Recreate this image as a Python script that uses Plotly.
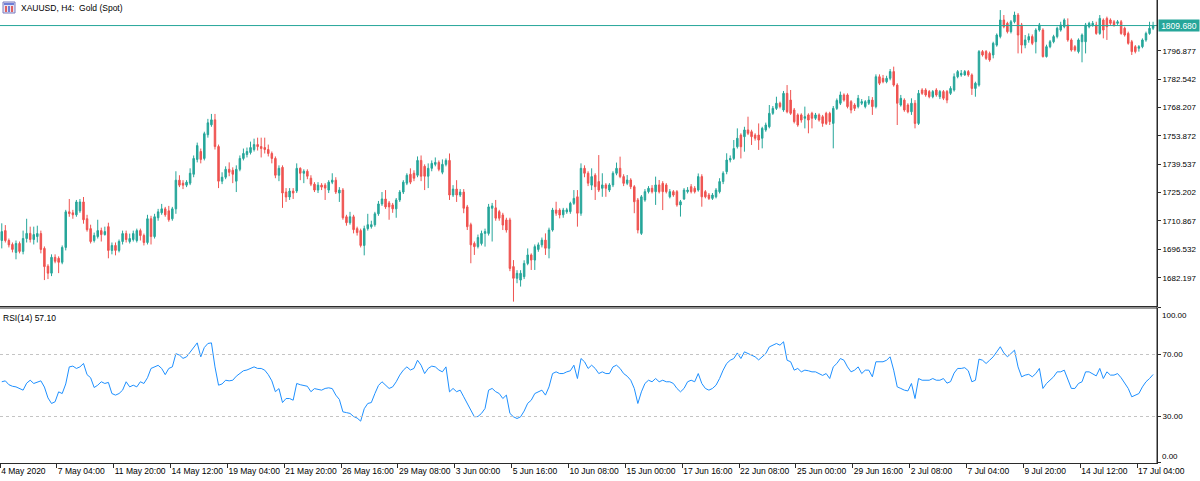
import plotly.graph_objects as go

# XAUUSD H4 bars, 4 May 2020 12:00 .. 17 Jul 2020 20:00
opens = [1701, 1706, 1701, 1699, 1695, 1699.5, 1695.5, 1702, 1704.6, 1701.5, 1703, 1704.5, 1697, 1688, 1684.5, 1692.5, 1692, 1690, 1697.5, 1715.5,
         1715, 1714, 1716, 1720.5, 1712, 1707, 1701, 1703, 1706, 1704, 1708, 1696, 1698.5, 1696, 1700.5, 1704.5, 1700.5, 1701.5, 1701, 1706,
         1703.5, 1700, 1712, 1703, 1712.5, 1715, 1717, 1716, 1712, 1717, 1731.5, 1730, 1729, 1730, 1734.5, 1742, 1746, 1742.5, 1754.5, 1759.5,
         1762, 1748.5, 1731, 1733, 1737, 1736.5, 1731, 1737, 1742.5, 1744.5, 1745.5, 1747, 1749.5, 1748.5, 1748, 1747, 1745, 1742.5, 1734, 1738,
         1725.5, 1723, 1726, 1726, 1737.5, 1735, 1736, 1732.5, 1729.5, 1726.5, 1729, 1729, 1726.5, 1730.5, 1731.5, 1725, 1726.5, 1713, 1710, 1713,
         1707, 1706, 1698.5, 1707, 1708, 1709, 1714.5, 1719.5, 1722, 1720, 1719, 1717, 1721.5, 1725.5, 1730, 1734.5, 1735, 1734, 1741.5, 1738.5,
         1733.5, 1737.5, 1739.5, 1740.5, 1735.5, 1739.5, 1741.5, 1724, 1727, 1724, 1725.5, 1718, 1709, 1699.5, 1698, 1699.5, 1704.6, 1704.6, 1717.3, 1717.5,
         1715.6, 1713.9, 1711.4, 1711.4, 1687.8, 1681.9, 1681, 1682.7, 1689.4, 1693.7, 1691.1, 1696.5, 1698.8, 1701.2, 1697.1, 1706.3, 1716.4, 1716.4, 1714, 1715.5,
         1715.6, 1719.8, 1723.1, 1714.8, 1737.5, 1735, 1729, 1734, 1730.8, 1727.4, 1729.1, 1726.5, 1729.1, 1735, 1737.5, 1733.3, 1729.9, 1731.6, 1728.2, 1721.5,
         1704.6, 1721.5, 1725.7, 1727.4, 1725.7, 1729.1, 1729.9, 1729.1, 1723.1, 1725.7, 1725.7, 1719, 1722, 1725.7, 1728.2, 1727.4, 1726.5, 1733.3, 1725.7, 1724,
         1722.3, 1723.1, 1725.7, 1730.8, 1735.8, 1741.7, 1742.5, 1748.4, 1754.3, 1753.5, 1756.9, 1756, 1754.3, 1754.3, 1752.7, 1756.9, 1758.5, 1765.3, 1767.8, 1770.4,
         1767, 1775.4, 1772, 1767, 1764.5, 1764.5, 1762.8, 1764.5, 1765.3, 1762.8, 1764.5, 1763.6, 1765.3, 1765.3, 1760.2, 1767.8, 1770.4, 1774.6, 1774.6, 1771.2,
         1769.5, 1768.7, 1770.4, 1768.7, 1770.4, 1772, 1768.7, 1783.8, 1783, 1781.3, 1783, 1786.4, 1779.6, 1769.5, 1772, 1769.5, 1766.1, 1770.4, 1760.2, 1777.1,
         1777.1, 1776.3, 1773.7, 1777.1, 1773.7, 1776.3, 1776.3, 1775.4, 1777.1, 1783.8, 1784.7, 1784.7, 1786.4, 1784.7, 1777.9, 1779.6, 1796.5, 1796.5, 1795.6, 1794.8,
         1799.8, 1804.1, 1812.5, 1810.8, 1806.6, 1811.6, 1815, 1810, 1799.8, 1802.4, 1804.1, 1801.5, 1807.4, 1807.4, 1794, 1799, 1801.5, 1804.1, 1807.4, 1809.1,
         1810, 1802.4, 1799, 1796.5, 1801.5, 1801.5, 1809.1, 1810, 1810, 1805.7, 1812.5, 1813.3, 1812.5, 1811.6, 1810.8, 1811.6, 1808.3, 1805.7, 1801.5, 1799,
         1798.2, 1799, 1802.4, 1805.7, 1808.3]
highs = [1709.7, 1708.8, 1702, 1700, 1701, 1700.5, 1706, 1712, 1708, 1708, 1708.5, 1706, 1698, 1689, 1694, 1694, 1693, 1698.5, 1716.5, 1722,
         1716.5, 1721.5, 1722, 1723, 1714, 1709, 1705, 1711.5, 1707.5, 1708, 1710, 1700, 1700, 1701.5, 1706, 1706, 1704.5, 1706, 1707, 1707,
         1704.5, 1714, 1713.5, 1714.5, 1717, 1719.5, 1718, 1718.5, 1718, 1736, 1734, 1731.5, 1731.5, 1737.5, 1744, 1750.5, 1747.5, 1756, 1762.5, 1765,
         1765, 1749.5, 1735.5, 1738.5, 1740.5, 1738, 1739, 1744, 1747.5, 1748, 1751, 1752.5, 1753, 1753, 1753, 1749.5, 1746, 1743.5, 1739, 1739,
         1727.5, 1727.5, 1727.5, 1740, 1738, 1737, 1737, 1734, 1730.5, 1730.5, 1730, 1730, 1731.5, 1735, 1733, 1728, 1727.5, 1714, 1715.5, 1714,
         1708, 1707, 1708.5, 1714.5, 1711, 1715.5, 1721, 1725.5, 1726.5, 1721, 1720, 1722.5, 1726.5, 1731.5, 1735, 1737.5, 1736.5, 1743.5, 1744, 1739.5,
         1740, 1741.5, 1743, 1741.5, 1742, 1742.5, 1745, 1729, 1731.5, 1727, 1727, 1719, 1710, 1700.5, 1704, 1706, 1707, 1719.5, 1720, 1721.5,
         1716.5, 1715, 1712.5, 1712.5, 1691.1, 1686, 1686, 1691, 1697, 1694.5, 1699, 1700, 1702.5, 1704.6, 1707.5, 1717.5, 1720.6, 1717.3, 1717.5, 1717.5,
         1720.6, 1726.5, 1726.5, 1740, 1739, 1736, 1737.5, 1735, 1744.2, 1735, 1730, 1730, 1736, 1740.4, 1743.4, 1734.5, 1734.1, 1732.5, 1729, 1722.5,
         1724, 1727, 1728.5, 1729, 1733.3, 1731.6, 1731, 1730, 1727, 1726.5, 1726.5, 1721.5, 1727.5, 1728, 1729.5, 1728.5, 1734.9, 1734.5, 1726.5, 1725,
         1725, 1727.5, 1732.5, 1736, 1745.1, 1744, 1751.8, 1757.7, 1755.2, 1758.5, 1763.6, 1757, 1755.2, 1760.2, 1758.5, 1760.6, 1769.5, 1769, 1773.7, 1771.2,
         1776.6, 1779.6, 1777.1, 1768, 1765.3, 1765.3, 1768.7, 1765.3, 1766.1, 1765.5, 1765.3, 1764.5, 1766.1, 1766.1, 1769, 1772.8, 1776.3, 1775.4, 1775.4, 1772,
         1770.4, 1774.6, 1772.5, 1772, 1774, 1773.5, 1785, 1785, 1784.7, 1784.3, 1787.7, 1788.9, 1780.5, 1774.6, 1772.9, 1770.4, 1772.9, 1772, 1777.1, 1778,
         1778, 1777.1, 1777.1, 1778, 1777.1, 1777.1, 1777.1, 1779, 1785.5, 1787.2, 1787.2, 1787.2, 1787.2, 1785.5, 1781.3, 1797.3, 1797.3, 1797.3, 1796.5, 1801.5,
         1805.7, 1817.5, 1815, 1811.6, 1812.5, 1816.7, 1816, 1811, 1804.9, 1805.7, 1805.2, 1808.3, 1811, 1808.3, 1800, 1802.4, 1805, 1809.1, 1811.6, 1813.3,
         1813.3, 1803.2, 1799.8, 1803.2, 1805.7, 1811, 1811.6, 1812, 1811.6, 1815, 1813.3, 1814.2, 1813.3, 1812.5, 1812.5, 1812.5, 1809.1, 1806.6, 1802.4, 1799.8,
         1799.8, 1803.2, 1806.6, 1811.6, 1811.6]
lows = [1697, 1700, 1697.5, 1695, 1691.5, 1694.5, 1694, 1700, 1700, 1699, 1700, 1694.5, 1681, 1681.5, 1683, 1689.5, 1684.5, 1689, 1696, 1713,
        1712, 1713, 1715, 1709.5, 1705.5, 1699.5, 1700, 1702, 1700.5, 1703.5, 1692, 1694, 1693.5, 1695, 1699, 1700, 1699.5, 1700.5, 1700, 1701,
        1698.5, 1699, 1699, 1702, 1711, 1714, 1713, 1710.5, 1711, 1714.5, 1728, 1727, 1728, 1729, 1733, 1740.5, 1740, 1741.5, 1753, 1758.5,
        1747, 1727.5, 1729.5, 1732, 1733.5, 1730, 1725.5, 1736, 1741.5, 1743, 1744.5, 1746, 1746.5, 1743, 1745, 1743.5, 1740, 1732.5, 1731, 1717.5,
        1720.5, 1721.5, 1722, 1725, 1731.5, 1730, 1732, 1728.5, 1725.5, 1725, 1726.5, 1721.5, 1725, 1729.5, 1724.5, 1720.5, 1711.5, 1708.5, 1709, 1704.6,
        1703.5, 1697.5, 1693.5, 1706, 1707, 1708, 1713.5, 1718.5, 1717, 1711.5, 1715, 1712.5, 1720.5, 1724.5, 1729, 1729.5, 1731, 1733, 1731, 1726.5,
        1727.5, 1736, 1738.5, 1736, 1734.5, 1738.5, 1721.5, 1723, 1720.5, 1723, 1714.8, 1706.3, 1689.5, 1693.7, 1697, 1698.5, 1697.9, 1703.5, 1700.5, 1711,
        1711, 1706.3, 1705, 1685.5, 1670.1, 1679.4, 1677.7, 1681.5, 1688.5, 1686.1, 1686.1, 1695.3, 1697.5, 1693.7, 1692, 1705.5, 1713.5, 1712.2, 1712.5, 1714.5,
        1714.5, 1719, 1708, 1713.5, 1733, 1728.5, 1726.5, 1721.5, 1725.5, 1723.1, 1723.1, 1725.5, 1728, 1734, 1732.5, 1728.5, 1729, 1727, 1714.8, 1704.6,
        1703.8, 1720.6, 1724.8, 1724.8, 1719, 1724.8, 1716.4, 1724.8, 1722.3, 1723.1, 1718.1, 1713.1, 1721.5, 1724.8, 1724.8, 1724.8, 1725.7, 1718.1, 1722.3, 1721.5,
        1721.5, 1722.3, 1724.8, 1729.5, 1734.5, 1740.5, 1741.7, 1747.5, 1742.5, 1745.9, 1754.3, 1749.3, 1751.5, 1746.8, 1747.6, 1756, 1757.7, 1764.5, 1767, 1767.8,
        1766.1, 1765.3, 1764.5, 1760.2, 1758.5, 1760.6, 1757.7, 1755.2, 1757.7, 1762, 1761.1, 1758.5, 1759.4, 1759.4, 1747.6, 1767, 1769.5, 1771.2, 1767.8, 1765.3,
        1766.5, 1767.8, 1769.5, 1767.8, 1769.5, 1764.5, 1767.8, 1779.6, 1780.5, 1780.5, 1782, 1778.8, 1759.4, 1768.7, 1766.1, 1765.3, 1764.5, 1757.7, 1759.4, 1774.6,
        1773.7, 1772.9, 1772.9, 1773.7, 1772.5, 1772, 1770.4, 1774.6, 1776.3, 1783, 1783.8, 1784.3, 1783.8, 1774.6, 1773.7, 1778.8, 1794, 1792.3, 1791.4, 1793.1,
        1799, 1803.2, 1808.3, 1805.7, 1805.7, 1810.8, 1795.6, 1795.6, 1798.2, 1801, 1799.8, 1795.6, 1806.6, 1793.5, 1793.5, 1798.2, 1800.7, 1803.2, 1806.6, 1808.3,
        1801.5, 1796.5, 1796.5, 1795.6, 1791.1, 1795.6, 1808.3, 1809.1, 1805, 1805, 1803.2, 1802.4, 1810, 1809.1, 1810, 1805, 1804.1, 1800, 1794.8, 1795.6,
        1796.5, 1798.2, 1801.5, 1805, 1807.4]
closes = [1705.5, 1701, 1698.8, 1696.5, 1699.5, 1695.5, 1702, 1704.6, 1701.5, 1704, 1704.5, 1696.5, 1687.8, 1684.5, 1692.5, 1690.5, 1690, 1697.5, 1715.5, 1714.6,
          1714, 1720.5, 1720.5, 1711.5, 1706.5, 1700.5, 1703.5, 1706, 1704, 1705.5, 1696, 1698.5, 1696, 1700.5, 1704.5, 1701.5, 1702, 1704.5, 1706, 1703.5,
          1700, 1712, 1703, 1713, 1715.5, 1717, 1714, 1711.5, 1717, 1731.5, 1729, 1729, 1730.5, 1735, 1742.5, 1749, 1742, 1755, 1760.5, 1762,
          1748.5, 1731, 1733, 1737, 1735.5, 1734.5, 1737, 1742.5, 1745, 1746, 1748, 1749.5, 1748.5, 1747.5, 1747, 1745, 1742.5, 1734, 1737.5, 1725,
          1723, 1726, 1725, 1737.5, 1735, 1736, 1733.5, 1729.5, 1726.5, 1729, 1728, 1727.5, 1730.5, 1731.5, 1725.5, 1726.5, 1712.5, 1710, 1713, 1706.5,
          1705, 1698.5, 1707, 1709, 1709, 1714.5, 1719.5, 1722, 1718, 1718, 1717, 1721.5, 1725.5, 1730.5, 1734, 1730.5, 1732.5, 1741.5, 1733.5, 1733.5,
          1737.5, 1740, 1740.5, 1737, 1739.5, 1741.5, 1724, 1727, 1724, 1725.5, 1717.3, 1708, 1698.8, 1697.9, 1702.5, 1704.6, 1705.5, 1718, 1718.5, 1712.3,
          1712.3, 1708.8, 1706.3, 1686.9, 1681.9, 1684.4, 1684.4, 1689.4, 1693.7, 1691.1, 1697.9, 1698.8, 1701.2, 1697.1, 1706.3, 1716.4, 1714.8, 1713.9, 1716.4, 1716.5,
          1719.8, 1722.3, 1714.8, 1737.5, 1735, 1730, 1733.3, 1728.2, 1726.5, 1729.1, 1727.4, 1729.1, 1735, 1737.5, 1733.3, 1729.9, 1731.6, 1728.2, 1720.6, 1706.3,
          1723.1, 1725.7, 1727.4, 1725.7, 1729.1, 1725.7, 1725.7, 1725.7, 1725.7, 1724, 1719, 1720.6, 1726.5, 1726.5, 1725.7, 1725.7, 1733.3, 1723.1, 1723.1, 1722.3,
          1724, 1726.5, 1730.8, 1735, 1741.7, 1742.5, 1747.5, 1752.7, 1748.4, 1756.9, 1755.2, 1753.5, 1752.7, 1751.8, 1757.7, 1759.4, 1765.3, 1767.8, 1770.4, 1768.7,
          1775.4, 1766.1, 1765.3, 1761.1, 1759.4, 1761.9, 1763.6, 1761.9, 1762.8, 1764.5, 1761.9, 1760.2, 1760.2, 1761.1, 1767.8, 1771.8, 1774.6, 1772, 1768.7, 1767,
          1767.8, 1772.9, 1771.2, 1771.2, 1772, 1768.7, 1783.8, 1780.5, 1781.3, 1783, 1786.4, 1779.6, 1770.4, 1772.9, 1767, 1766.1, 1770.4, 1760.2, 1775.4, 1775.4,
          1774.6, 1773.7, 1776.3, 1774.6, 1776.3, 1772.9, 1772, 1777.9, 1783.8, 1786.4, 1785.5, 1786.4, 1784.7, 1777.9, 1780.5, 1796.5, 1794.8, 1793.1, 1792.3, 1800.7,
          1804.9, 1812.5, 1809.1, 1806.6, 1811.6, 1815, 1804.9, 1799.8, 1802.4, 1804.1, 1800.7, 1807.4, 1810, 1794, 1799, 1801.5, 1804.1, 1808.3, 1810, 1812.5,
          1802.4, 1797.3, 1797.3, 1802.4, 1804.9, 1810, 1810.8, 1810.8, 1805.7, 1813.3, 1807.4, 1809.1, 1810.8, 1810, 1811.6, 1805.7, 1804.9, 1800.7, 1796.5, 1796.5,
          1799, 1802.4, 1805.7, 1808.3, 1809.68]

# RSI(14) line, one value per bar
rsi = [52.4, 53, 50.5, 49.5, 49.1, 48, 47, 51.5, 53.4, 51.3, 52, 53, 49, 42, 38.4, 39.5, 45.9, 44.8, 51, 62,
       62.5, 61, 62, 64.2, 57, 55, 48.7, 50.2, 52.4, 51.3, 52, 44.8, 43.8, 44.8, 47, 52.4, 49.1, 50.2, 49.1, 52.4,
       51.3, 55, 61, 62, 63, 61, 57, 61, 62, 70.5, 69.6, 67.5, 68.5, 71.5, 74.5, 77.5, 68.5, 74.5, 77.1, 77.5,
       62, 50.2, 51, 53.4, 53, 53.4, 56, 58, 59.5, 60, 61, 62, 61, 61, 59.9, 57, 53, 46, 48, 39,
       41.6, 41.6, 40.5, 51.3, 50.5, 50.2, 49.5, 46, 48, 47.5, 47, 48.1, 48.5, 48, 43.8, 41, 33, 32.5, 32, 30,
       29, 27, 35, 38.4, 39, 44.8, 50, 52.4, 50.2, 48.1, 49.1, 52.4, 56.7, 59.9, 62, 60, 61, 66.3, 63.1, 57.7,
       61, 62.5, 62, 60, 58.8, 62, 45.9, 48.1, 46, 47, 42.7, 38.4, 34.1, 29.8, 30, 32, 35.2, 47, 48.1, 46,
       44.8, 41.6, 43.8, 32, 29.8, 28.7, 29.8, 33.5, 38.5, 40.5, 44.8, 45.9, 47, 43.8, 49.1, 57.7, 58.8, 57.7, 57.7, 58.8,
       59.5, 63.1, 54.5, 67.4, 65.3, 61, 63.1, 61, 57.7, 58.8, 57.7, 57.7, 62, 63.1, 61, 57.7, 56, 53.4, 48.1, 38.4,
       45.9, 51.3, 53.4, 52.4, 54.5, 52.4, 53.4, 52.4, 52.4, 51.3, 48.1, 45.9, 48.1, 52.4, 53.4, 52.4, 57.7, 51.3, 48.1, 47,
       48.1, 50.2, 54.5, 59.9, 64.2, 66.3, 67.4, 71, 67.4, 71.7, 70.6, 69.6, 68.5, 66.5, 68.5, 70.6, 74.9, 76, 77.1, 76,
       78.2, 66.3, 65.3, 59.9, 61, 58.8, 59.9, 59.5, 58.8, 58.8, 57.7, 56.5, 57.7, 54.5, 62, 64.2, 67.4, 66.3, 62, 58.8,
       59.9, 62, 57.7, 59.9, 59.9, 55.6, 65.3, 65.3, 65.3, 66.3, 68.5, 59.9, 49.1, 48.1, 47, 46.5, 51.3, 41.6, 54.5, 53.4,
       53.4, 53.4, 54.5, 53.4, 53.4, 54.5, 51.5, 52.5, 58, 61, 61, 61.5, 59.5, 52.4, 53.4, 67, 66.3, 64.2, 66.3, 68.5,
       71.7, 75, 71, 68.5, 70.6, 72.8, 62, 55.6, 56.7, 57.2, 55.6, 57.7, 61, 48.1, 51.3, 53.4, 55.6, 58.8, 58.8, 59.9,
       53.4, 48.1, 48.1, 51.3, 52.4, 58.8, 58.8, 57.7, 56.2, 61, 54.5, 58.8, 56.7, 56.7, 57.7, 55, 51.3, 48.1, 42.7, 43.8,
       44.8, 49.1, 52.4, 54.5, 57.1]

bars = list(range(len(closes)))

# time axis labels and the bar each one starts at
tick_bars = [0, 16, 32, 48, 64, 80, 96, 112, 128, 144, 160, 176, 192, 208, 224, 240, 256, 272, 288, 304, 320]
tick_labels = ["4 May 2020", "7 May 04:00", "11 May 20:00", "14 May 12:00", "19 May 04:00", "21 May 20:00",
               "26 May 16:00", "29 May 08:00", "3 Jun 00:00", "5 Jun 16:00", "10 Jun 08:00", "15 Jun 00:00",
               "17 Jun 16:00", "22 Jun 08:00", "25 Jun 00:00", "29 Jun 16:00", "2 Jul 08:00", "7 Jul 04:00",
               "9 Jul 20:00", "14 Jul 12:00", "17 Jul 04:00"]

price_ticks = [1682.197, 1696.532, 1710.867, 1725.202, 1739.537, 1753.872, 1768.207, 1782.542, 1796.877]
rsi_levels = [70, 30]
current_price = 1809.68
rsi_last = 57.10

GREEN = "#26a69a"
RED = "#ef5350"
FRAME = "#2b2b2b"
FONT = "Liberation Sans"

fig = go.Figure()

fig.add_trace(go.Candlestick(
    x=bars, open=opens, high=highs, low=lows, close=closes,
    increasing=dict(line=dict(color=GREEN, width=1), fillcolor=GREEN),
    decreasing=dict(line=dict(color=RED, width=1), fillcolor=RED),
    xaxis="x", yaxis="y", showlegend=False, hoverinfo="skip"))

fig.add_trace(go.Scatter(
    x=bars, y=rsi, mode="lines", line=dict(color="#1e90ff", width=1),
    xaxis="x2", yaxis="y2", showlegend=False, hoverinfo="skip"))

xrange = [-0.5, 325.1]
tickpos = [b - 0.5 if b > 0 else -0.45 for b in tick_bars]

fig.update_layout(
    width=1200, height=481,
    margin=dict(l=0, r=43, t=0, b=18, pad=0, autoexpand=False),
    paper_bgcolor="white", plot_bgcolor="white",
    font=dict(family=FONT, size=8.5, color="black"),
    boxgap=0.4,
    xaxis=dict(domain=[0, 1], anchor="y", range=xrange, showticklabels=False, ticks="",
               showgrid=False, zeroline=False, showline=True, linecolor=FRAME, linewidth=1,
               rangeslider=dict(visible=False), automargin=False),
    yaxis=dict(domain=[0.3391, 1], anchor="x", side="right", range=[1667.89, 1822.6],
               tickvals=price_ticks, ticktext=[f"{v:.3f}" for v in price_ticks],
               ticks="outside", ticklen=3, tickcolor=FRAME, tickfont=dict(size=8),
               showgrid=False, zeroline=False, showline=True, linecolor=FRAME, automargin=False),
    xaxis2=dict(domain=[0, 1], anchor="y2", range=xrange, tickvals=tickpos, ticktext=tick_labels,
                ticks="outside", ticklen=4, tickcolor=FRAME, ticklabelposition="outside right",
                tickangle=0, tickfont=dict(size=8.5), showgrid=False, zeroline=False,
                showline=True, linecolor=FRAME, automargin=False),
    yaxis2=dict(domain=[0, 0.3348], anchor="x2", side="right", range=[0, 100],
                tickvals=[100] + rsi_levels + [0], ticktext=["", "70.00", "30.00", ""],
                ticks="outside", ticklen=3, tickcolor=FRAME, tickfont=dict(size=8),
                showgrid=False, zeroline=False, showline=True, linecolor=FRAME, automargin=False),
)

shapes = []
# current price line
shapes.append(dict(type="line", xref="x domain", yref="y", x0=0, x1=1, y0=current_price, y1=current_price,
                   line=dict(color=GREEN, width=1)))
# RSI levels
for lv in rsi_levels:
    shapes.append(dict(type="line", xref="x2 domain", yref="y2", x0=0, x1=1, y0=lv, y1=lv,
                       line=dict(color="#c4c4c4", width=1, dash="3px,3px")))
# top edge of RSI pane and the full right border
shapes.append(dict(type="line", xref="x2 domain", yref="y2 domain", x0=0, x1=1, y0=1, y1=1,
                   line=dict(color=FRAME, width=1)))
shapes.append(dict(type="line", xref="paper", yref="paper", x0=1, x1=1, y0=0, y1=1,
                   line=dict(color=FRAME, width=1)))
# little symbol icon next to the title
shapes.append(dict(type="rect", xref="paper", yref="paper", xsizemode="pixel", ysizemode="pixel",
                   xanchor=0, yanchor=1, x0=3, x1=15, y0=-2, y1=-13,
                   fillcolor="#e4e4f4", line=dict(color="#7b7bbf", width=1)))
shapes.append(dict(type="rect", xref="paper", yref="paper", xsizemode="pixel", ysizemode="pixel",
                   xanchor=0, yanchor=1, x0=4, x1=14, y0=-3, y1=-5,
                   fillcolor="#6f7fd6", line=dict(width=0)))
for bx, col in [(5, "#e06060"), (8, "#6f7fd6"), (11, "#e06060")]:
    shapes.append(dict(type="rect", xref="paper", yref="paper", xsizemode="pixel", ysizemode="pixel",
                       xanchor=0, yanchor=1, x0=bx, x1=bx + 2, y0=-6, y1=-12,
                       fillcolor=col, line=dict(width=0)))
fig.update_layout(shapes=shapes)

annotations = [
    dict(text="XAUUSD, H4:\u00a0 Gold (Spot)", xref="paper", yref="paper", x=0, y=1,
         xanchor="left", yanchor="top", xshift=19, yshift=-1, showarrow=False,
         font=dict(size=8.5, color="black")),
    dict(text=f"RSI(14) {rsi_last:.2f}", xref="x2 domain", yref="y2 domain", x=0, y=1,
         xanchor="left", yanchor="top", xshift=1, yshift=-3, showarrow=False,
         font=dict(size=8.5, color="black")),
    dict(text=f"{current_price:.3f}", xref="paper", yref="y", x=1, y=current_price,
         xanchor="left", yanchor="middle", xshift=1, showarrow=False,
         bgcolor=GREEN, width=40, height=11, borderpad=0,
         font=dict(size=8.5, color="white")),
    dict(text="100.00", xref="paper", yref="y2", x=1, y=100, xanchor="left", yanchor="top",
         xshift=3, yshift=-1, showarrow=False, font=dict(size=8, color="black")),
    dict(text="0.00", xref="paper", yref="y2", x=1, y=0, xanchor="left", yanchor="bottom",
         xshift=3, yshift=0, showarrow=False, font=dict(size=8, color="black")),
]
fig.update_layout(annotations=annotations)

# the page body has an 8px default margin, drop it so the chart sits at the window corner
fig.write_html("out.html", config={"displayModeBar": False},
               post_script="document.body.style.margin='0';")
